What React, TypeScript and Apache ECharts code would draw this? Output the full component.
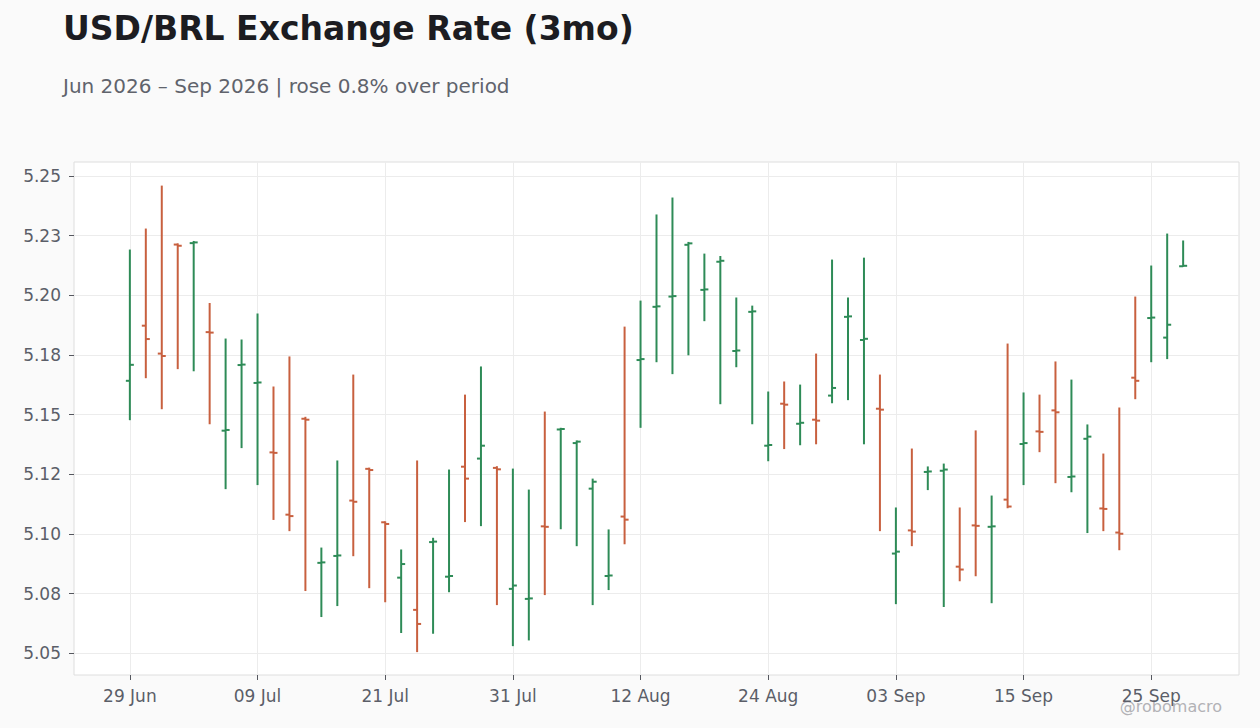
import React, { useEffect, useRef } from "react";
import * as echarts from "echarts";

const dates = [
  "2026-06-29", "2026-06-30",
  "2026-07-01", "2026-07-02", "2026-07-03", "2026-07-06", "2026-07-07", "2026-07-08", "2026-07-09", "2026-07-10",
  "2026-07-13", "2026-07-14", "2026-07-15", "2026-07-16", "2026-07-17", "2026-07-20", "2026-07-21", "2026-07-22",
  "2026-07-23", "2026-07-24", "2026-07-27", "2026-07-28", "2026-07-29", "2026-07-30", "2026-07-31",
  "2026-08-03", "2026-08-04", "2026-08-05", "2026-08-06", "2026-08-07", "2026-08-10", "2026-08-11", "2026-08-12",
  "2026-08-13", "2026-08-14", "2026-08-17", "2026-08-18", "2026-08-19", "2026-08-20", "2026-08-21", "2026-08-24",
  "2026-08-25", "2026-08-26", "2026-08-27", "2026-08-28", "2026-08-31",
  "2026-09-01", "2026-09-02", "2026-09-03", "2026-09-04", "2026-09-07", "2026-09-08", "2026-09-09", "2026-09-10",
  "2026-09-11", "2026-09-14", "2026-09-15", "2026-09-16", "2026-09-17", "2026-09-18", "2026-09-21", "2026-09-22",
  "2026-09-23", "2026-09-24", "2026-09-25", "2026-09-28", "2026-09-29",
];

const opens = [
  5.1642, 5.1873, 5.1756, 5.2213, 5.2219, 5.1846, 5.1433, 5.1708, 5.1633, 5.1342,
  5.1081, 5.1483, 5.0879, 5.0908, 5.1140, 5.1273, 5.1049, 5.0817, 5.0682, 5.0966,
  5.0821, 5.1282, 5.1316, 5.1277, 5.0770, 5.0728, 5.1032, 5.1438, 5.1381, 5.1190,
  5.0824, 5.1073, 5.1729, 5.1952, 5.1995, 5.2212, 5.2023, 5.2141, 5.1767, 5.1931,
  5.1370, 5.1546, 5.1462, 5.1479, 5.1580, 5.1910, 5.1813, 5.1525, 5.0918, 5.1015,
  5.1260, 5.1265, 5.0863, 5.1036, 5.1030, 5.1144, 5.1377, 5.1430, 5.1518, 5.1239,
  5.1399, 5.1107, 5.1006, 5.1655, 5.1905, 5.1823, 5.2122,
];

const highs = [
  5.2190, 5.2278, 5.2458, 5.2216, 5.2226, 5.1966, 5.1817, 5.1813, 5.1922, 5.1616,
  5.1742, 5.1489, 5.0941, 5.1306, 5.1666, 5.1276, 5.1051, 5.0933, 5.1306, 5.0982,
  5.1268, 5.1582, 5.1700, 5.1282, 5.1272, 5.1184, 5.1511, 5.1443, 5.1390, 5.1230,
  5.1017, 5.1867, 5.1976, 5.2337, 5.2408, 5.2222, 5.2173, 5.2163, 5.1989, 5.1955,
  5.1595, 5.1637, 5.1624, 5.1754, 5.2148, 5.1989, 5.2156, 5.1666, 5.1109, 5.1356,
  5.1281, 5.1293, 5.1109, 5.1432, 5.1159, 5.1796, 5.1591, 5.1582, 5.1721, 5.1645,
  5.1457, 5.1335, 5.1528, 5.1993, 5.2123, 5.2257, 5.2228,
];

const lows = [
  5.1479, 5.1655, 5.1525, 5.1693, 5.1684, 5.1462, 5.1190, 5.1362, 5.1207, 5.1061,
  5.1014, 5.0763, 5.0654, 5.0700, 5.0909, 5.0775, 5.0716, 5.0587, 5.0507, 5.0584,
  5.0758, 5.1052, 5.1035, 5.0704, 5.0532, 5.0556, 5.0746, 5.1022, 5.0951, 5.0704,
  5.0767, 5.0959, 5.1447, 5.1722, 5.1672, 5.1751, 5.1894, 5.1546, 5.1701, 5.1462,
  5.1307, 5.1358, 5.1374, 5.1378, 5.1550, 5.1563, 5.1378, 5.1014, 5.0708, 5.0951,
  5.1186, 5.0696, 5.0804, 5.0825, 5.0712, 5.1110, 5.1207, 5.1345, 5.1215, 5.1177,
  5.1006, 5.1014, 5.0934, 5.1567, 5.1722, 5.1735, 5.2122,
];

const closes = [
  5.1709, 5.1817, 5.1746, 5.2208, 5.2222, 5.1844, 5.1436, 5.1710, 5.1635, 5.1340,
  5.1075, 5.1479, 5.0881, 5.0910, 5.1135, 5.1268, 5.1042, 5.0874, 5.0623, 5.0968,
  5.0824, 5.1232, 5.1370, 5.1271, 5.0784, 5.0730, 5.1030, 5.1440, 5.1387, 5.1219,
  5.0826, 5.1060, 5.1733, 5.1954, 5.1997, 5.2218, 5.2025, 5.2145, 5.1769, 5.1933,
  5.1373, 5.1542, 5.1466, 5.1475, 5.1612, 5.1912, 5.1818, 5.1521, 5.0926, 5.1010,
  5.1262, 5.1270, 5.0851, 5.1034, 5.1032, 5.1115, 5.1381, 5.1428, 5.1510, 5.1241,
  5.1408, 5.1105, 5.1001, 5.1642, 5.1907, 5.1877, 5.2124,
];

const yTickValues = [5.05, 5.075, 5.1, 5.125, 5.15, 5.175, 5.2, 5.225, 5.25];
const yTickLabels = ["5.05", "5.08", "5.10", "5.12", "5.15", "5.18", "5.20", "5.23", "5.25"];
const monthNames = ["Jan", "Feb", "Mar", "Apr", "May", "Jun", "Jul", "Aug", "Sep", "Oct", "Nov", "Dec"];

const TITLE = "USD/BRL Exchange Rate (3mo)";
const SUBTITLE = "Jun 2026 \u2013 Sep 2026 | rose 0.8% over period";
const WATERMARK = "@robomacro";

const PAD = 3;
const LABEL_STEP = 8;
const UP = "#2e8b57";
const DOWN = "#c8603f";
const FONT = "DejaVu Sans";

function fmtDate(d: string): string {
  const parts = d.split("-");
  return parts[2] + " " + monthNames[parseInt(parts[1], 10) - 1];
}

export default function App() {
  const ref = useRef<HTMLDivElement>(null);

  useEffect(() => {
    if (!ref.current) return;
    const chart = echarts.init(ref.current, null, { renderer: "svg" });

    const cats: string[] = [];
    for (let i = 0; i < PAD; i++) cats.push("padL" + i);
    dates.forEach((d) => cats.push(d));
    for (let i = 0; i < PAD; i++) cats.push("padR" + i);

    const showIdx = (i: number) => i >= PAD && i < PAD + dates.length && (i - PAD) % LABEL_STEP === 0;

    const data = dates.map((d, i) => [i + PAD, opens[i], highs[i], lows[i], closes[i]]);

    const option: any = {
      animation: false,
      backgroundColor: "#fafafa",
      textStyle: { fontFamily: FONT },
      title: [
        {
          text: TITLE,
          left: 58,
          top: 7,
          textStyle: { fontFamily: FONT, fontSize: 33, fontWeight: "bold", color: "#1c1c21" },
        },
        {
          text: SUBTITLE,
          left: 58,
          top: 71,
          textStyle: { fontFamily: FONT, fontSize: 20, fontWeight: "normal", color: "#60636c" },
        },
      ],
      graphic: [
        {
          type: "text",
          right: 38,
          bottom: 14,
          style: { text: WATERMARK, fill: "#b2b2b6", fontSize: 16, fontFamily: FONT },
        },
      ],
      grid: {
        left: 74,
        right: 21,
        top: 162,
        bottom: 53,
        show: true,
        backgroundColor: "#ffffff",
        borderColor: "#dedede",
        borderWidth: 1,
      },
      xAxis: {
        type: "category",
        data: cats,
        boundaryGap: true,
        axisLine: { show: false },
        axisTick: {
          show: true,
          interval: (i: number) => showIdx(i),
          alignWithLabel: true,
          length: 5,
          lineStyle: { color: "#55575e", width: 1 },
        },
        axisLabel: {
          interval: (i: number) => showIdx(i),
          formatter: (v: string) => (v.startsWith("pad") ? "" : fmtDate(v)),
          color: "#5b5e68",
          fontSize: 17,
          fontFamily: FONT,
          margin: 12,
        },
        splitLine: {
          show: true,
          interval: (i: number) => showIdx(i),
          alignWithLabel: true,
          lineStyle: { color: "#ececec", width: 1 },
        },
      },
      yAxis: {
        type: "value",
        min: 5.0409,
        max: 5.2559,
        axisLine: { show: false },
        axisTick: {
          show: true,
          length: 5,
          customValues: yTickValues,
          lineStyle: { color: "#55575e", width: 1 },
        },
        axisLabel: {
          customValues: yTickValues,
          formatter: (v: number) => {
            let best = 0;
            for (let k = 1; k < yTickValues.length; k++) {
              if (Math.abs(yTickValues[k] - v) < Math.abs(yTickValues[best] - v)) best = k;
            }
            return yTickLabels[best];
          },
          color: "#5b5e68",
          fontSize: 17,
          fontFamily: FONT,
          margin: 13,
        },
        splitLine: { show: true, lineStyle: { color: "#ececec", width: 1 } },
      },
      series: [
        {
          type: "custom",
          data,
          encode: { x: 0, y: [1, 2, 3, 4] },
          renderItem: (params: any, api: any) => {
            const x = api.value(0);
            const o = api.value(1);
            const h = api.value(2);
            const l = api.value(3);
            const c = api.value(4);
            const pH = api.coord([x, h]);
            const pL = api.coord([x, l]);
            const pO = api.coord([x, o]);
            const pC = api.coord([x, c]);
            const color = c >= o ? UP : DOWN;
            const st = { stroke: color, lineWidth: 2 };
            return {
              type: "group",
              children: [
                { type: "line", shape: { x1: pH[0], y1: pH[1] - 0.5, x2: pL[0], y2: pL[1] + 0.5 }, style: st },
                { type: "line", shape: { x1: pO[0] - 4, y1: pO[1], x2: pO[0], y2: pO[1] }, style: st },
                { type: "line", shape: { x1: pC[0], y1: pC[1], x2: pC[0] + 4, y2: pC[1] }, style: st },
              ],
            };
          },
        },
      ],
    };

    chart.setOption(option);
    return () => chart.dispose();
  }, []);

  return (
    <div
      ref={ref}
      style={{ position: "fixed", left: 0, top: 0, width: 1260, height: 728 }}
    />
  );
}
